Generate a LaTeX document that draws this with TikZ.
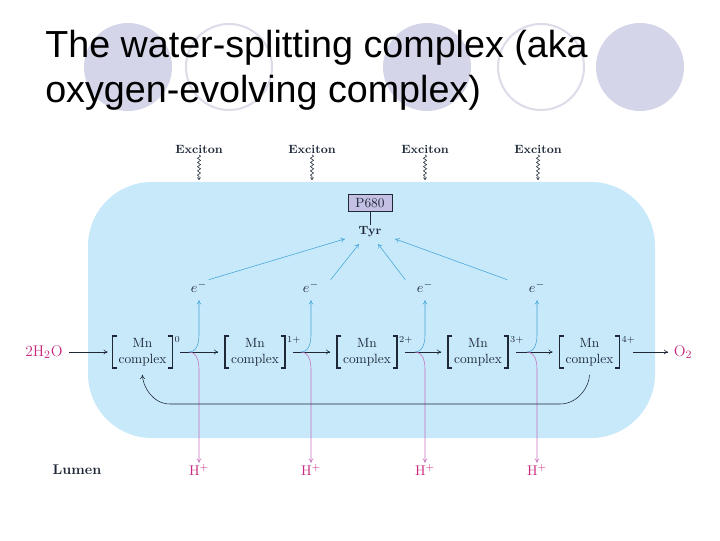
\documentclass[tikz,border=0pt]{standalone}
\usepackage{fontspec}
\usepackage{amsmath}
\newfontfamily\titlefont{Liberation Sans}
\usetikzlibrary{arrows.meta, positioning, calc, decorations.pathmorphing}

\definecolor{lumenblue}{RGB}{199,233,250}
\definecolor{dotfill}{RGB}{213,213,234}
\definecolor{dotline}{RGB}{221,221,233}
\definecolor{eblue}{RGB}{70,165,215}
\definecolor{hpink}{RGB}{200,110,190}
\definecolor{chem}{RGB}{200,40,125}
\definecolor{boxfill}{RGB}{196,192,228}
\definecolor{ink}{RGB}{30,40,55}

\begin{document}
\begin{tikzpicture}[x=0.025cm, y=0.025cm,
    lbl/.style={font=\fontsize{9.5}{11.4}\selectfont, text=ink, inner sep=1pt},
    boldlbl/.style={lbl, font=\fontsize{8.5}{10}\selectfont\bfseries},
    chemlbl/.style={font=\fontsize{11}{13}\selectfont, text=chem, inner sep=1pt},
    mnbox/.style={lbl, align=center, minimum width=1.475cm, minimum height=0.775cm, inner sep=0pt},
    charge/.style={font=\fontsize{6.5}{8}\selectfont, text=ink, inner sep=0pt, anchor=north west, xshift=0.05cm},
    bracket/.style={draw=ink, line width=1.1pt},
    flow/.style={draw=ink, thin, -{To[length=3pt,width=3.5pt]}},
    eflow/.style={draw=eblue, thin, -{To[length=3pt,width=3.5pt]}},
    hflow/.style={draw=hpink, thin, -{To[length=3pt,width=3.5pt]}},
    wavy/.style={draw=ink, thin, decorate, decoration={snake, amplitude=1.1pt, segment length=3pt, post length=2pt}, -{To[length=2pt,width=2.5pt]}}
  ]
    \useasboundingbox (0,0) rectangle (720,540);

    % --- Slide decoration and title ---
    \fill[dotfill] (128,473) circle (44);
    \draw[dotline, line width=1.5pt] (229,473) circle (43);
    \fill[dotfill] (427,473) circle (44);
    \draw[dotline, line width=1.5pt] (541,473) circle (43);
    \fill[dotfill] (640,473) circle (44);

    \node[anchor=base west, inner sep=0pt, font=\titlefont\fontsize{26.8}{32}\selectfont] (title1) at (45,482) {The water-splitting complex (aka};
    \node[anchor=base west, inner sep=0pt, font=\titlefont\fontsize{26.8}{32}\selectfont] (title2) at (45,437) {oxygen-evolving complex)};

    % --- Membrane region ---
    \fill[lumenblue, rounded corners=1.6cm] (88,102) rectangle (655,358);

    % --- Excitons ---
    \node[boldlbl] (ex1) at (199,391) {Exciton};
    \node[boldlbl] (ex2) at (312,391) {Exciton};
    \node[boldlbl] (ex3) at (425,391) {Exciton};
    \node[boldlbl] (ex4) at (538,391) {Exciton};
    \coordinate (w1) at (199,360);
    \coordinate (w2) at (312,360);
    \coordinate (w3) at (425,360);
    \coordinate (w4) at (538,360);
    \draw[wavy] (ex1.south) -- (w1);
    \draw[wavy] (ex2.south) -- (w2);
    \draw[wavy] (ex3.south) -- (w3);
    \draw[wavy] (ex4.south) -- (w4);

    % P680 and Tyr
    \node[lbl, draw=ink, fill=boxfill, minimum width=1.1cm, minimum height=0.425cm] (p680) at (370,337) {P680};
    \node[boldlbl] (tyr) at (370,308) {Tyr};
    \draw[ink] (p680.south) -- (tyr.north);

    % --- Electrons ---
    \node[lbl, font=\fontsize{10}{12}\selectfont] (e1) at (199,253) {$e^-$};
    \node[lbl, font=\fontsize{10}{12}\selectfont] (e2) at (311,253) {$e^-$};
    \node[lbl, font=\fontsize{10}{12}\selectfont] (e3) at (425,253) {$e^-$};
    \node[lbl, font=\fontsize{10}{12}\selectfont] (e4) at (537,253) {$e^-$};
    \draw[eflow] (e1.north east) -- ([xshift=-0.3cm]tyr.south west);
    \draw[eflow] ([xshift=0.25cm]e2.north east) -- ([shift={(-11,-5)}]tyr.south);
    \draw[eflow] ([xshift=-0.25cm]e3.north west) -- ([shift={(8,-5)}]tyr.south);
    \draw[eflow] ([xshift=-0.5cm]e4.north west) -- ([xshift=0.3cm]tyr.south east);

    % --- Mn complex states ---
    \node[chemlbl] (h2o) at (44,188) {2H$_2$O};
    \node[mnbox] (mn0) at (142.5,188) {Mn\\complex};
    \node[mnbox] (mn1) at (255,188) {Mn\\complex};
    \node[mnbox] (mn2) at (367,188) {Mn\\complex};
    \node[mnbox] (mn3) at (478,188) {Mn\\complex};
    \node[mnbox] (mn4) at (589.5,188) {Mn\\complex};
    \node[chemlbl] (o2) at (683,188) {O$_2$};

    % brackets
    \draw[bracket] ([xshift=0.1cm]mn0.north west) -- (mn0.north west) -- (mn0.south west) -- ++(4,0);
    \draw[bracket] ([xshift=-0.1cm]mn0.north east) -- (mn0.north east) -- (mn0.south east) -- ++(-4,0);
    \draw[bracket] ([xshift=0.1cm]mn1.north west) -- (mn1.north west) -- (mn1.south west) -- ++(4,0);
    \draw[bracket] ([xshift=-0.1cm]mn1.north east) -- (mn1.north east) -- (mn1.south east) -- ++(-4,0);
    \draw[bracket] ([xshift=0.1cm]mn2.north west) -- (mn2.north west) -- (mn2.south west) -- ++(4,0);
    \draw[bracket] ([xshift=-0.1cm]mn2.north east) -- (mn2.north east) -- (mn2.south east) -- ++(-4,0);
    \draw[bracket] ([xshift=0.1cm]mn3.north west) -- (mn3.north west) -- (mn3.south west) -- ++(4,0);
    \draw[bracket] ([xshift=-0.1cm]mn3.north east) -- (mn3.north east) -- (mn3.south east) -- ++(-4,0);
    \draw[bracket] ([xshift=0.1cm]mn4.north west) -- (mn4.north west) -- (mn4.south west) -- ++(4,0);
    \draw[bracket] ([xshift=-0.1cm]mn4.north east) -- (mn4.north east) -- (mn4.south east) -- ++(-4,0);

    % charges
    \node[charge] (c0) at (mn0.north east) {0};
    \node[charge] (c1) at (mn1.north east) {1+};
    \node[charge] (c2) at (mn2.north east) {2+};
    \node[charge] (c3) at (mn3.north east) {3+};
    \node[charge] (c4) at (mn4.north east) {4+};

    % S-state arrows
    \draw[flow, shorten <=0.125cm, shorten >=0.125cm] (h2o) -- (mn0);
    \draw[flow, shorten <=0.2cm, shorten >=0.175cm] (mn0) -- (mn1);
    \draw[flow, shorten <=0.2cm, shorten >=0.175cm] (mn1) -- (mn2);
    \draw[flow, shorten <=0.2cm, shorten >=0.175cm] (mn2) -- (mn3);
    \draw[flow, shorten <=0.2cm, shorten >=0.175cm] (mn3) -- (mn4);
    \draw[flow, shorten <=0.35cm, shorten >=0.1cm] (mn4) -- (o2);

    % branch points on the arrows
    \coordinate (k1) at (189,188);
    \coordinate (k2) at (301,188);
    \coordinate (k3) at (415,188);
    \coordinate (k4) at (527,188);

    % --- Protons to the lumen ---
    \node[lbl, font=\fontsize{10}{12}\selectfont\bfseries] (lumen) at (77,70) {Lumen};
    \node[chemlbl, font=\fontsize{10}{12}\selectfont] (h1) at (199,70) {H$^+$};
    \node[chemlbl, font=\fontsize{10}{12}\selectfont] (h2) at (311,70) {H$^+$};
    \node[chemlbl, font=\fontsize{10}{12}\selectfont] (h3) at (425,70) {H$^+$};
    \node[chemlbl, font=\fontsize{10}{12}\selectfont] (h4) at (537,70) {H$^+$};

    \draw[eflow, shorten >=0.15cm] (k1) to[out=0, in=-90] ++(10,17) -- (e1.south);
    \draw[eflow, shorten >=0.15cm] (k2) to[out=0, in=-90] ++(10,17) -- (e2.south);
    \draw[eflow, shorten >=0.15cm] (k3) to[out=0, in=-90] ++(10,17) -- (e3.south);
    \draw[eflow, shorten >=0.15cm] (k4) to[out=0, in=-90] ++(10,17) -- (e4.south);

    \draw[hflow] (k1) to[out=0, in=90] ++(10,-17) -- (h1.north);
    \draw[hflow] (k2) to[out=0, in=90] ++(10,-17) -- (h2.north);
    \draw[hflow] (k3) to[out=0, in=90] ++(10,-17) -- (h3.north);
    \draw[hflow] (k4) to[out=0, in=90] ++(10,-17) -- (h4.north);

    % --- Return to the S0 state ---
    \coordinate (r1) at (560,136);
    \coordinate (r2) at (170,136);
    \draw[flow, shorten <=0.175cm, shorten >=0.175cm] (mn4.south) to[out=-90, in=0] (r1) -- (r2) to[out=180, in=-90] (mn0.south);

\end{tikzpicture}
\end{document}
